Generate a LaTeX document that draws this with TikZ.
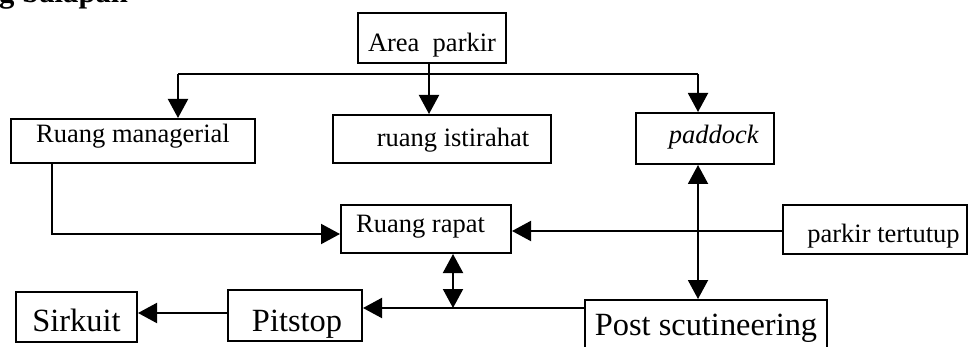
\documentclass[tikz,border=0pt]{standalone}
\usepackage{fontspec}
\setmainfont{Liberation Serif}
\usetikzlibrary{arrows.meta}

\tikzset{
  box/.style={draw, line width=2pt, rectangle, inner sep=0pt,
    font=\fontsize{26.5}{30}\selectfont},
  bigbox/.style={box, font=\fontsize{32.4}{36}\selectfont},
  sz/.style 2 args={minimum width=#1pt, minimum height=#2pt},
  tb/.style 2 args={text height=#1pt, text depth=#2pt},
  link/.style={line width=2pt},
  tip/.tip={Triangle[length=19pt,width=20pt]},
  arr/.style={link, -tip},
  darr/.style={link, tip-tip},
}

\begin{document}
\begin{tikzpicture}[x=1pt,y=-1pt]
\useasboundingbox (0,0) rectangle (968,347);

% heading, running off the top edge
\node[anchor=base west, inner sep=0pt,
  font=\bfseries\fontsize{30.7}{34}\selectfont] (title) at (-1,3) {g balapan};

% rooms
\node[box, sz={148}{50}, tb={29}{1}]  (area)    at (432,38)    {Area\ \ parkir};
\node[box, sz={244}{44}, tb={17}{13}] (manag)   at (133,141)   {Ruang managerial};
\node[box, sz={218}{48}, tb={23}{7}]  (istir)   at (442,139)   {\hspace*{22pt}ruang istirahat};
\node[box, sz={138}{51}, tb={20}{10}] (paddock) at (705,138.5) {\hspace*{18pt}\textit{paddock}};
\node[box, sz={170}{48}, tb={19}{11}] (rapat)   at (426,229)   {Ruang rapat\hspace*{11pt}};
\node[box, sz={184}{49}, tb={27.5}{2.5}] (tutup) at (875,229.5) {\hspace*{17pt}parkir tertutup};
\node[bigbox, sz={121}{50}, tb={31}{3}]    (sirkuit) at (76.5,317)  {Sirkuit};
\node[bigbox, sz={134}{51}, tb={32.5}{1.5}] (pitstop) at (295,315.5) {\hspace*{4pt}Pitstop};
\node[bigbox, sz={242}{52}, tb={26}{8}]    (post)    at (706,326)   {Post scutineering};

% distribution bus below the parking area
\coordinate (busL) at (178,74);
\coordinate (busR) at (698,74);
\coordinate (stem) at (429,0);
\draw[link] (busL) -- (busR);
\draw[arr] (stem |- area.south) -- (stem |- istir.north);
\draw[arr] (busL) -- (busL |- manag.north);
\draw[arr] (busR) -- (busR |- paddock.north);

% into the meeting room
\coordinate (mgr) at (52,0);
\draw[arr] (mgr |- manag.south) |- ([yshift=-5pt]rapat.west);
\draw[arr] ([yshift=-1.5pt]tutup.west) -- ([yshift=-1.5pt]tutup.west -| rapat.east);

% paddock and scrutineering
\coordinate (pv) at (698,0);
\draw[darr] (pv |- paddock.south) -- (pv |- post.north);

% lower route towards the circuit
\coordinate (low) at (0,308);
\coordinate (dv) at (453,0);
\coordinate (ps) at (0,313);
\draw[arr] (post.west |- low) -- (pitstop.east |- low);
\draw[darr] (dv |- rapat.south) -- (dv |- low);
\draw[arr] (pitstop.west |- ps) -- (sirkuit.east |- ps);
\end{tikzpicture}
\end{document}
